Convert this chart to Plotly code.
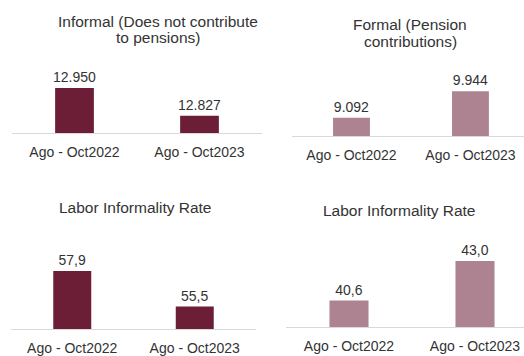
import plotly.graph_objects as go

# Period categories shared by all four panels
periods = ["Ago - Oct2022", "Ago - Oct2023"]

# Employed population (thousands)
informal_workers = [12950, 12827]
formal_workers = [9092, 9944]

# Labor informality rate (%)
rate_informal = [57.9, 55.5]
rate_formal = [40.6, 43.0]

DARK = "#6B1E36"
LIGHT = "#AE8391"
TEXT = "#333333"
AXIS = "#D9D9D9"
FONT = "Liberation Sans, Arial, sans-serif"

W, H = 524, 356


def px_x(a, b):
    return [a / W, b / W]


def px_y(top, bottom):
    return [(H - bottom) / H, (H - top) / H]


panels = [
    # values, colour, label format, x-domain px, x-range, y-domain px, y-range
    dict(y=informal_workers, color=DARK, fmt="%{y:,.0f}",
         xd=(12, 262), xr=[-0.5, 1.5], yd=(55, 135), yr=[12748, 13099]),
    dict(y=formal_workers, color=LIGHT, fmt="%{y:,.0f}",
         xd=(292, 524), xr=[-0.5, 1.45], yd=(55, 137.5), yr=[8502, 11134]),
    dict(y=rate_informal, color=DARK, fmt="%{y:.1f}",
         xd=(11, 256), xr=[-0.5, 1.5], yd=(245, 333), yr=[53.97, 59.84]),
    dict(y=rate_formal, color=LIGHT, fmt="%{y:.1f}",
         xd=(286, 524), xr=[-0.5, 1.389], yd=(245, 331), yr=[38.98, 44.14]),
]

fig = go.Figure()
layout = {}
for i, p in enumerate(panels, start=1):
    sfx = "" if i == 1 else str(i)
    fig.add_trace(go.Bar(
        x=periods, y=p["y"], xaxis="x" + sfx, yaxis="y" + sfx,
        marker=dict(color=p["color"], line=dict(width=0)),
        width=0.31,
        texttemplate=p["fmt"], textposition="outside", constraintext="none",
        textfont=dict(size=14, color=TEXT, family=FONT),
        cliponaxis=False, showlegend=False, hoverinfo="skip",
    ))
    layout["xaxis" + sfx] = dict(
        domain=px_x(*p["xd"]), range=p["xr"], type="category",
        showline=True, linecolor=AXIS, linewidth=1, ticks="",
        showgrid=False, zeroline=False, anchor="y" + sfx,
        tickfont=dict(size=14, color=TEXT, family=FONT),
        ticklabelstandoff=6,
    )
    layout["yaxis" + sfx] = dict(
        domain=px_y(*p["yd"]), range=p["yr"], showgrid=False,
        zeroline=False, showticklabels=False, showline=False,
        anchor="x" + sfx,
    )

titles = [
    ("Informal (Does not contribute", 158, 22),
    ("to pensions)", 158, 38),
    ("Formal (Pension", 410, 25),
    ("contributions)", 410, 42),
    ("Labor Informality Rate", 135, 210),
    ("Labor Informality Rate", 399, 213),
]
annotations = [
    dict(text=t, x=x / W, y=1 - y / H, xref="paper", yref="paper",
         xanchor="center", yanchor="middle", showarrow=False,
         font=dict(size=15.5, color=TEXT, family=FONT))
    for t, x, y in titles
]

fig.update_layout(
    width=W, height=H, margin=dict(l=0, r=0, t=0, b=0),
    paper_bgcolor="white", plot_bgcolor="white",
    separators=",.", annotations=annotations, **layout,
)

fig.write_html("out.html")
